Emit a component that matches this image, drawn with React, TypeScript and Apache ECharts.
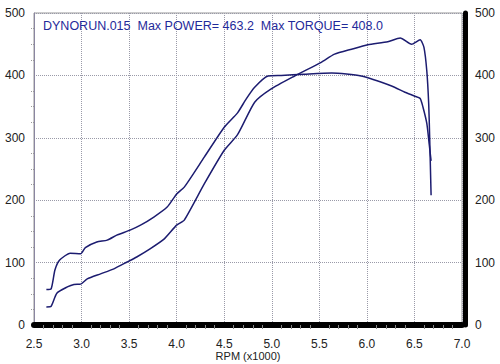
import React, { useEffect, useRef } from "react";
import * as echarts from "echarts";

const titleText = "DYNORUN.015  Max POWER= 463.2  Max TORQUE= 408.0";
const xAxisName = "RPM (x1000)";

const rpmTorque = [2.63, 2.68, 2.72, 2.77, 2.88, 2.99, 3.04, 3.16, 3.27, 3.37, 3.51, 3.62, 3.76, 3.9, 4.0, 4.08, 4.29, 4.5, 4.64, 4.73, 4.82, 4.96, 5.1, 5.34, 5.63, 5.94, 6.26, 6.4, 6.5, 6.56, 6.59, 6.63, 6.655, 6.675];
const torque = [57, 58, 88, 104, 115, 114, 124, 133, 136, 144, 152, 160, 173, 189, 210, 221, 269, 317, 340, 362, 381, 399, 400, 402, 404, 399, 383, 373, 367, 363, 349, 323, 290, 263];

const rpmPower = [2.63, 2.68, 2.74, 2.85, 2.92, 2.99, 3.06, 3.2, 3.34, 3.48, 3.58, 3.72, 3.87, 4.0, 4.08, 4.29, 4.5, 4.64, 4.82, 4.99, 5.24, 5.52, 5.66, 5.84, 6.01, 6.22, 6.35, 6.47, 6.56, 6.6, 6.63, 6.65, 6.66, 6.675];
const power = [29, 30, 51, 61, 65, 65.5, 74, 82, 90, 101, 109, 122, 138, 160, 168, 226, 280, 305, 357, 378, 399, 421, 434, 442, 449, 454, 460, 450, 457, 445, 407, 354, 301, 208];

const font = "Liberation Sans, Arial, sans-serif";
const lineColor = "#1c1c70";

export default function App() {
  const ref = useRef<HTMLDivElement>(null);
  useEffect(() => {
    if (!ref.current) return;
    const chart = echarts.init(ref.current, null, { renderer: "svg" });
    const gridLine = { show: true, lineStyle: { type: "dotted", color: "#9a9aa8", width: 1 } };
    chart.setOption({
      animation: false,
      backgroundColor: "#ffffff",
      title: {
        text: titleText,
        left: 38,
        top: 14,
        textStyle: { color: "#1f2a9a", fontSize: 12.5, fontWeight: "normal", fontFamily: font },
      },
      grid: {
        left: 34,
        right: 38,
        top: 13,
        bottom: 39,
        show: true,
        borderColor: "#999",
        borderWidth: 1,
        outerBoundsMode: "none",
        containLabel: false,
      },
      xAxis: {
        type: "value",
        min: 2.5,
        max: 7.0,
        interval: 0.5,
        offset: 4,
        name: xAxisName,
        nameLocation: "middle",
        nameGap: 21,
        nameMoveOverlap: false,
        nameTextStyle: { color: "#222", fontSize: 11, fontFamily: font },
        axisLine: { show: true, lineStyle: { color: "#000", width: 6 } },
        axisTick: { show: false },
        minorTick: { show: true, splitNumber: 5, length: 4, lineStyle: { color: "#888" } },
        axisLabel: { color: "#222", fontSize: 12, fontFamily: font, margin: 9, formatter: (v: number) => v.toFixed(1) },
        splitLine: gridLine,
      },
      yAxis: [
        {
          type: "value",
          min: 0,
          max: 500,
          interval: 100,
          position: "left",
          axisLine: { show: true, lineStyle: { color: "#8a86a0", width: 1 } },
          axisTick: { show: false },
          minorTick: { show: true, splitNumber: 4, length: 3, lineStyle: { color: "#999", type: "dotted" } },
          axisLabel: { color: "#222", fontSize: 12, fontFamily: font, margin: 9 },
          splitLine: gridLine,
        },
        {
          type: "value",
          min: 0,
          max: 500,
          interval: 100,
          position: "right",
          offset: 3,
          axisLine: { show: true, lineStyle: { color: "#000", width: 5 } },
          axisTick: { show: false },
          axisLabel: { color: "#222", fontSize: 12, fontFamily: font, margin: 10 },
          splitLine: { show: false },
        },
      ],
      series: [
        {
          name: "Torque",
          type: "line",
          smooth: 0.2,
          showSymbol: false,
          data: rpmTorque.map((r, i) => [r, torque[i]]),
          lineStyle: { color: lineColor, width: 1.5 },
          itemStyle: { color: lineColor },
        },
        {
          name: "Power",
          type: "line",
          smooth: 0.2,
          showSymbol: false,
          data: rpmPower.map((r, i) => [r, power[i]]),
          lineStyle: { color: lineColor, width: 1.5 },
          itemStyle: { color: lineColor },
        },
      ],
    });
    return () => chart.dispose();
  }, []);
  return <div ref={ref} style={{ width: 500, height: 364, position: "absolute", left: 0, top: 0 }} />;
}
